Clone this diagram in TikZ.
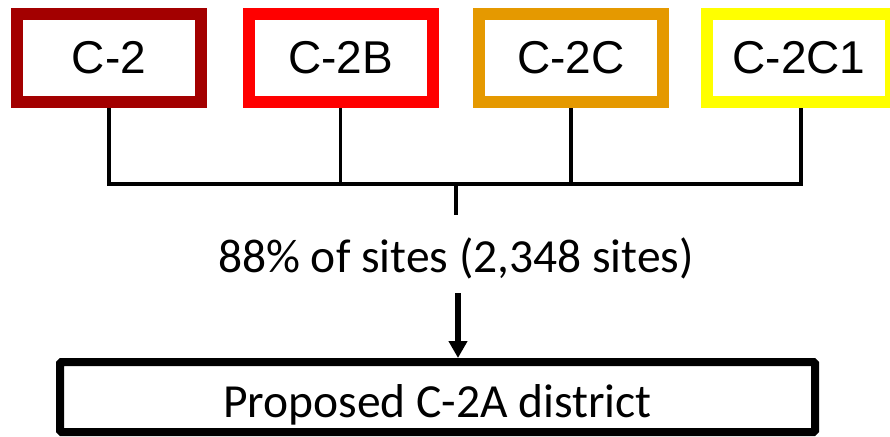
\documentclass[tikz,border=0pt]{standalone}
\usepackage{fontspec}
\setmainfont{Carlito}
\newfontfamily\boxfont{Liberation Sans}
\usetikzlibrary{arrows.meta}
\definecolor{cdark}{RGB}{163,0,0}
\definecolor{cred}{RGB}{255,0,0}
\definecolor{corange}{RGB}{229,153,0}
\definecolor{cyellow}{RGB}{255,255,0}
\tikzset{
  zonebox/.style={draw, line width=12pt, miter limit=10, fill=white,
    minimum width=184pt, minimum height=88pt, inner sep=0pt,
    font=\boxfont\fontsize{46}{46}\selectfont, text height=32pt, text depth=0pt},
  link/.style={line width=3.2pt, black},
  bigarrow/.style={line width=6pt, -{Triangle[width=18pt,length=17pt]}},
  finalbox/.style={draw, line width=8pt, rounded corners=1.5pt, fill=white,
    minimum width=755pt, minimum height=70pt, inner sep=0pt,
    font=\fontsize{47.5}{47.5}\selectfont, text height=40pt, text depth=0pt},
  pcttext/.style={font=\fontsize{47.5}{47.5}\selectfont, inner sep=0pt, anchor=base}
}
\begin{document}
\begin{tikzpicture}[x=1pt,y=-1pt]
\useasboundingbox (0,0) rectangle (890,436);
\begin{scope}
\clip (0,0) rectangle (890,436);
\node[zonebox, draw=cdark] (b1) at (109,58) {C-2};
\node[zonebox, draw=cred] (b2) at (340.5,58) {C-2B};
\node[zonebox, draw=corange] (b3) at (571,58) {C-2C};
\node[zonebox, draw=cyellow] (b4) at (799,58) {C-2C1};

\coordinate (h1) at (109,184);
\coordinate (h4) at (801,184);
\coordinate (j) at (456,184);
\coordinate (js) at (456,215);
\draw[link] (b1.south) -- (h1) -- (h4) -- (h4 |- b4.south);
\draw[link] (b2.south) -- (b2.south |- h1);
\draw[link] (b3.south) -- (b3.south |- h1);
\draw[link] (j) -- (js);

\node[pcttext] (pct) at (456,272) {88\% of sites (2,348 sites)};

\node[finalbox] (fin) at (437.5,397) {Proposed C-2A district};
\coordinate (as) at (458,293);
\draw[bigarrow] (as) -- (as |- fin.north);
\end{scope}
\end{tikzpicture}
\end{document}
